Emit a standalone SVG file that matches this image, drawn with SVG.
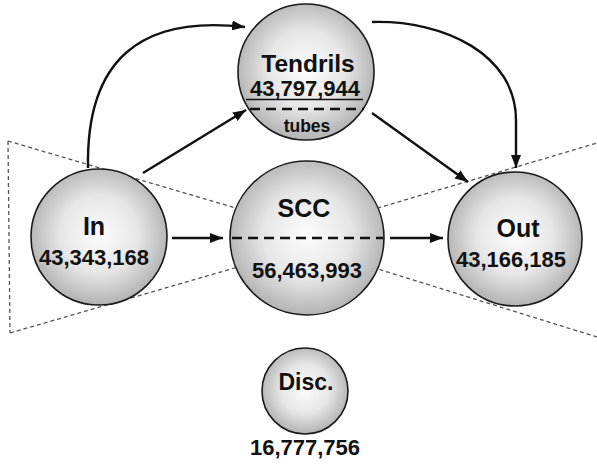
<svg xmlns="http://www.w3.org/2000/svg" width="597" height="464" viewBox="0 0 597 464">
<defs>
<radialGradient id="sphere" cx="50%" cy="48%" r="52%">
<stop offset="0%" stop-color="#fdfdfd"/>
<stop offset="55%" stop-color="#e6e6e6"/>
<stop offset="100%" stop-color="#b3b3b3"/>
</radialGradient>
<marker id="arr" markerUnits="userSpaceOnUse" markerWidth="14" markerHeight="11" refX="13" refY="5" orient="auto">
<path d="M0,0 L13,5 L0,10 Z" fill="#111"/>
</marker>
</defs>
<style>
.node{fill:url(#sphere);stroke:#1a1a1a;stroke-width:1.6}
.lbl{font-family:"Liberation Sans",Arial,sans-serif;font-weight:bold;fill:#111;text-anchor:middle}
.edge{fill:none;stroke:#111;stroke-width:2.4;marker-end:url(#arr)}
.bow{fill:none;stroke:#555;stroke-width:1.3;stroke-dasharray:4 3}
.div{stroke:#111;stroke-width:2.6;stroke-dasharray:10 6}
</style>
<rect width="597" height="464" fill="#fff"/>
<g id="bowtie">
<path class="bow" d="M8,141 L307,229 L597,143 M10,333 L307,247 L597,337 M8,141 L10,333"/>
</g>
<g id="connectors">
<path class="edge" d="M88,168 C86,60 140,15 245,27"/>
<path class="edge" d="M372,22 C445,20 516,55 516,120 L516,168"/>
<path class="edge" d="M143,173 L246,110"/>
<path class="edge" d="M372,113 L468,182"/>
<path class="edge" d="M172,238 L223,238"/>
<path class="edge" d="M390,238 L443,238"/>
</g>
<g id="tendrils">
<circle class="node" cx="306" cy="72" r="68"/>
<text class="lbl" x="308" y="72" font-size="24.5">Tendrils</text>
<text class="lbl" x="305" y="96" font-size="22">43,797,944</text>
<line x1="246" y1="99.5" x2="363" y2="99.5" stroke="#111" stroke-width="1.6"/>
<line class="div" x1="250" y1="109" x2="364" y2="109"/>
<text class="lbl" x="307" y="132" font-size="17.5">tubes</text>
</g>
<g id="in">
<circle class="node" cx="99" cy="237" r="68"/>
<text class="lbl" x="94" y="235" font-size="25">In</text>
<text class="lbl" x="94" y="265" font-size="22">43,343,168</text>
</g>
<g id="scc">
<circle class="node" cx="307" cy="238" r="77"/>
<text class="lbl" x="304" y="217" font-size="25">SCC</text>
<line class="div" x1="232" y1="238" x2="383" y2="238"/>
<text class="lbl" x="307" y="278" font-size="22">56,463,993</text>
</g>
<g id="out">
<circle class="node" cx="515" cy="239" r="67"/>
<text class="lbl" x="518" y="237" font-size="25">Out</text>
<text class="lbl" x="511" y="267" font-size="22">43,166,185</text>
</g>
<g id="disc">
<circle class="node" cx="305" cy="391" r="43"/>
<text class="lbl" x="306" y="390" font-size="23">Disc.</text>
<text class="lbl" x="305" y="455" font-size="22">16,777,756</text>
</g>
</svg>
